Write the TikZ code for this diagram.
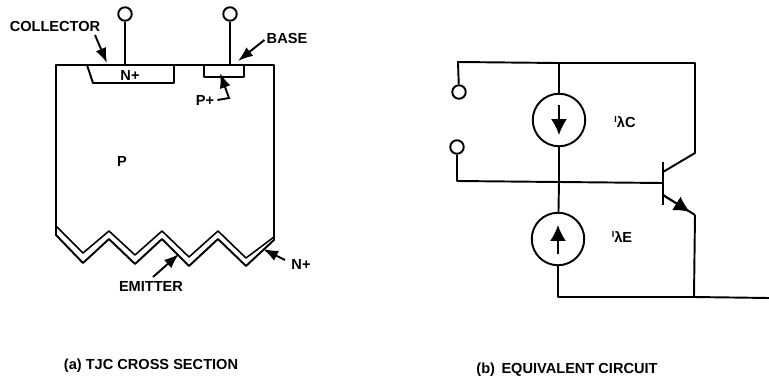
\documentclass[tikz,border=0pt]{standalone}
\usepackage{fontspec}
\setmainfont{Liberation Sans}
\usetikzlibrary{arrows.meta}
\begin{document}
\begin{tikzpicture}[x=0.02cm,y=-0.02cm]
	
	% Styles
	\tikzstyle{wire}=[line width=1.1pt,line join=round]
	\tikzstyle{thin wire}=[line width=0.9pt,line join=round]
	\tikzstyle{tip}=[line width=1.1pt,-{Latex[length=3.2mm,width=3.2mm]}]
	\tikzstyle{pointer}=[line width=1.1pt,-{Latex[length=3mm,width=2.2mm]}]
	\tikzstyle{label}=[font=\fontsize{8.3}{9}\selectfont\bfseries,inner sep=0pt]
	\tikzstyle{terminal}=[circle,draw,line width=1.1pt,fill=white,minimum size=0.27cm,inner sep=0pt]
	\tikzstyle{source}=[circle,draw,line width=1.1pt,minimum size=1.05cm,inner sep=0pt]
	\useasboundingbox (0,0) rectangle (769,379);
	
	% --- Cross section ---
	\draw[wire] (56,226) -- (56,65) -- (274,65) -- (274,237);
	\draw[thin wire] (56,226) -- (83,253) -- (109,231) -- (135,255) -- (162,231) -- (189,257) -- (218,231) -- (246,258) -- (274,237);
	\draw[wire] (56,226) -- (56,235) -- (83,263) -- (109,239) -- (135,264) -- (162,239) -- (189,266) -- (218,239) -- (246,266) -- (274,240) -- (274,237);
	\draw[wire] (87,65) -- (93,83) -- (174,83) -- (174,65);
	\draw[wire] (204,66) -- (204,77) -- (244,77) -- (244,66);
	
	\node[terminal] (TC) at (125,14) {};
	\node[terminal] (TB) at (230,14) {};
	\coordinate (CC) at (125,65);
	\coordinate (CB) at (230,65);
	\draw[wire] (TC) -- (CC);
	\draw[wire] (TB) -- (CB);
	
	\node[label] (COL) at (55,26) {COLLECTOR};
	\node[label] (BASE) at (287,38) {BASE};
	\node[label] (NP) at (130,75) {N+};
	\node[label] (PP) at (205,100) {P+};
	\node[label] (P) at (122,161) {P};
	\node[label] (EM) at (151,286) {EMITTER};
	\node[label] (NE) at (301,264) {N+};
	\node[label] (CA) at (151,366) {(a) TJC CROSS SECTION};
	\node[label] (CBB) at (567,370) {(b)\, EQUIVALENT CIRCUIT};
	
	\coordinate (ColTip) at (107,63);
	\coordinate (BaseTip) at (238,61);
	\coordinate (PPTip) at (220,73);
	\coordinate (PPBend) at (229,98);
	\coordinate (EmTip) at (179,254);
	\coordinate (NETip) at (263,249);
	\draw[pointer] (95,35) -- (ColTip);
	\draw[pointer] (BASE.west) ++(-2,2) -- (BaseTip);
	\draw[pointer] (PP.east) ++(3,0) -- (PPBend) -- (PPTip);
	\draw[pointer] (153,277) -- (EmTip);
	\draw[pointer] (285,260) -- (NETip);
	
	% --- Equivalent circuit ---
	\node[terminal] (T1) at (459,92) {};
	\node[terminal] (T2) at (457,147) {};
	\node[source] (IC) at (559,120) {};
	\node[source] (IE) at (558,239) {};
	\node[label] (LC) at (625,122) {\raisebox{3pt}{\fontsize{5}{5}\selectfont I}λC};
	\node[label] (LE) at (622,237) {\raisebox{3pt}{\fontsize{5}{5}\selectfont I}λE};
	
	\coordinate (TL) at (458,62);
	\coordinate (TM) at (559,63);
	\coordinate (TR) at (695,63);
	\coordinate (BL) at (457,181);
	\coordinate (BM) at (559,182);
	\coordinate (BB) at (663,183);
	\coordinate (K1) at (695,153);
	\coordinate (K2) at (663,172);
	\coordinate (E1) at (663,195);
	\coordinate (EH) at (690,212);
	\coordinate (E2) at (695,215);
	\coordinate (G1) at (558,297);
	\coordinate (G2) at (694,297);
	\coordinate (G3) at (769,298);
	
	\draw[wire] (T1) -- (TL) -- (TM) -- (TR) -- (K1) -- (K2);
	\draw[wire] (T2) -- (BL) -- (BM) -- (BB);
	\draw[wire] (TM) -- (IC);
	\draw[wire] (IC) -- (BM) -- (IE);
	\draw[wire] (IE) -- (G1) -- (G2) -- (G3);
	\draw[wire] (G2) -- (E2);
	\draw[wire] (E1) -- (E2);
	\draw[line width=1.3pt] (663,162) -- (663,205);
	\draw[tip] (E1) -- (EH);
	
	\coordinate (CT) at (559,105);
	\coordinate (CH) at (559,135);
	\coordinate (ET) at (558,254);
	\coordinate (AH) at (558,225);
	\draw[tip] (CT) -- (CH);
	\draw[tip] (ET) -- (AH);
\end{tikzpicture}
\end{document}
